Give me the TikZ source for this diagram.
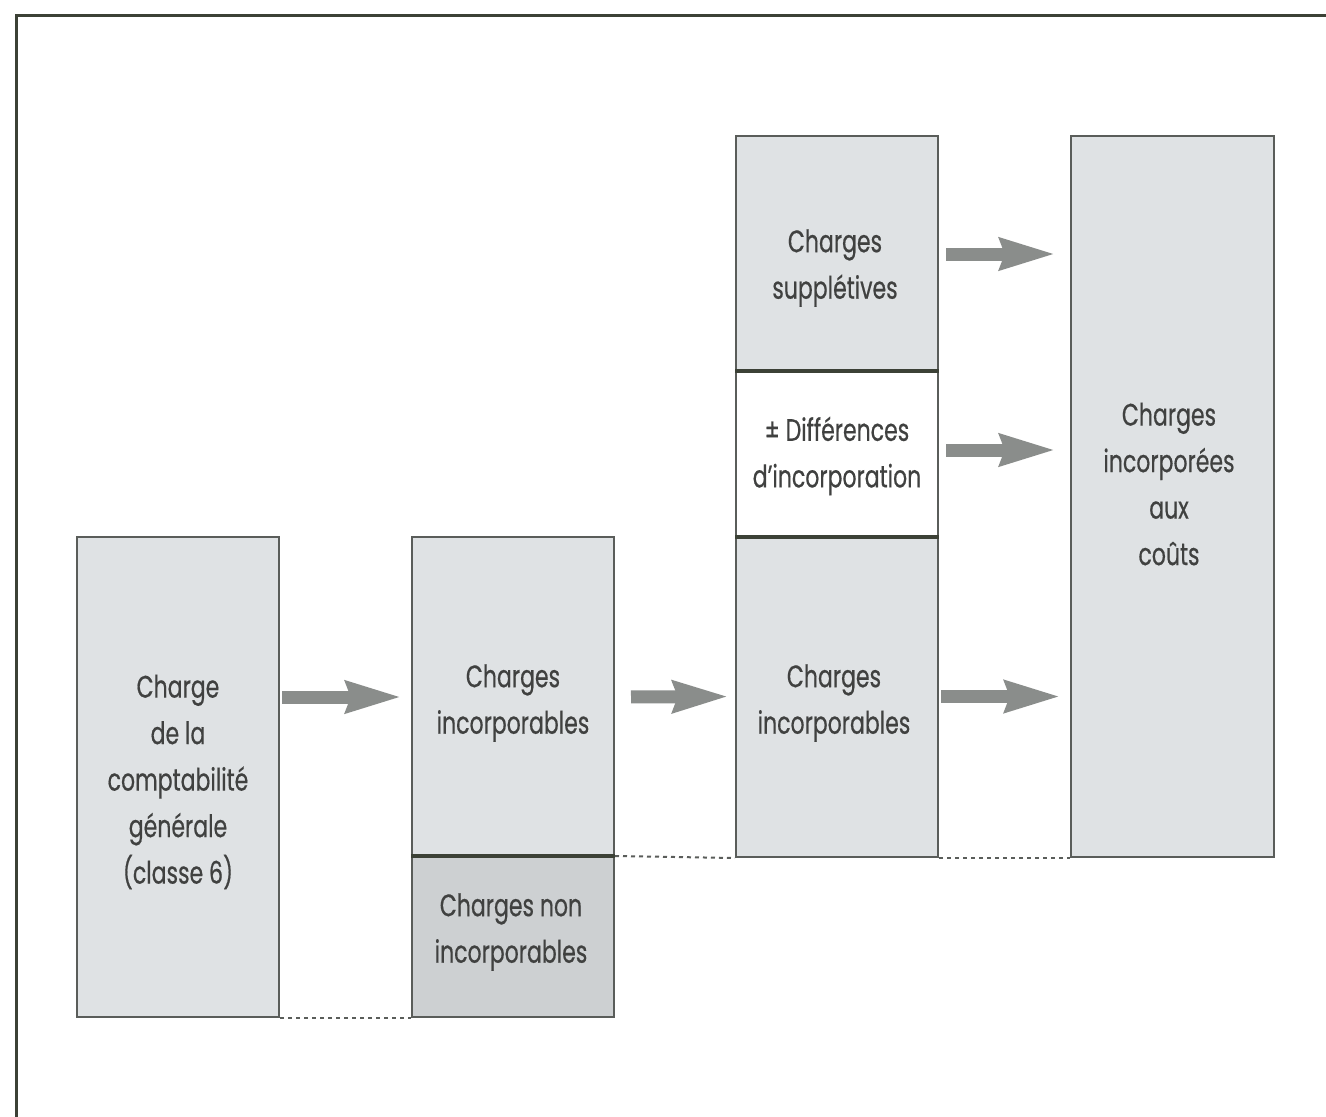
\documentclass[tikz,border=0pt]{standalone}
\usepackage{fontspec}
\usetikzlibrary{arrows.meta}
\newfontfamily\boxfont{Poppins}[FakeStretch=0.71,FakeBold=0.5]
\definecolor{boxgray}{HTML}{DFE2E4}
\definecolor{darkgray}{HTML}{CDD0D2}
\definecolor{edge}{HTML}{5A5D5A}
\definecolor{sep}{HTML}{3C4136}
\definecolor{arrowgray}{HTML}{8A8D8B}
\definecolor{txt}{HTML}{404140}
\tikzset{
  block/.style={draw=edge, line width=2pt, fill=boxgray, inner sep=0pt},
  caption/.style={inner sep=0pt, align=center, text=txt,
    font=\boxfont\fontsize{31}{46.5}\selectfont},
  flow/.style={draw=arrowgray, line width=13pt,
    -{Triangle[length=55pt,width=30pt,inset=4pt]}},
  link/.style={draw=edge, line width=2pt, dash pattern=on 4pt off 4pt},
}
\begin{document}
\begin{tikzpicture}[x=1pt,y=-1pt]
  \useasboundingbox (0,0) rectangle (1326,1117);
  \fill[white] (0,0) rectangle (1326,1117);
  % frame
  \draw[sep, line width=3pt] (16,1117) -- (16,15) -- (1326,15);

  % general accounting charges
  \node[block, minimum width=202pt, minimum height=480pt] (gen) at (178,777) {};
  \node[caption] (gentxt) at (178,782)
    {Charge\\de la\\comptabilité\\générale\\(classe 6)};

  % incorporable / non incorporable split
  \node[block, minimum width=202pt, minimum height=320pt] (inc1) at (513,697) {};
  \node[caption] (inc1txt) at (513,703) {Charges\\incorporables};
  \node[block, fill=darkgray, minimum width=202pt, minimum height=160pt] (noninc) at (513,937) {};
  \node[caption] (noninctxt) at (511,932) {Charges non\\incorporables};
  \draw[sep, line width=3.5pt] (noninc.north west) -- (noninc.north east);

  % stacked column
  \node[block, minimum width=202pt, minimum height=236pt] (supp) at (837,254) {};
  \node[caption] (supptxt) at (835,268) {Charges\\supplétives};
  \node[block, fill=white, minimum width=202pt, minimum height=164pt] (diff) at (837,454) {};
  \node[caption] (difftxt) at (837,456) {± Différences\\d’incorporation};
  \node[block, minimum width=202pt, minimum height=321pt] (inc2) at (837,696.5) {};
  \node[caption] (inc2txt) at (834,703) {Charges\\incorporables};
  \draw[sep, line width=3.5pt] (diff.north west) -- (diff.north east);
  \draw[sep, line width=3.5pt] (diff.south west) -- (diff.south east);

  % costs
  \node[block, minimum width=203pt, minimum height=721pt] (cout) at (1172.5,496.5) {};
  \node[caption] (couttxt) at (1169,484)
    {Charges\\incorporées\\aux\\coûts};

  % flows
  \draw[flow] (gen.east |- inc1.west) ++(2,0) -- ([xshift=-9pt]inc1.west);
  \draw[flow, shorten <=16pt, shorten >=6pt] (inc1.east) -- (inc2.west);
  \draw[flow, shorten <=7pt, shorten >=14pt] (supp.east) -- (supp.east -| cout.west);
  \draw[flow, shorten <=7pt, shorten >=14pt] ([yshift=4pt]diff.east) -- ([yshift=4pt]diff.east -| cout.west);
  \draw[flow, shorten <=2pt, shorten >=9pt] (inc2.east) -- (inc2.east -| cout.west);

  % level links
  \draw[link] (gen.south east) -- (noninc.south west);
  \draw[link] (noninc.north east) -- (inc2.south west);
  \draw[link] (inc2.south east) -- (cout.south west);
\end{tikzpicture}
\end{document}
